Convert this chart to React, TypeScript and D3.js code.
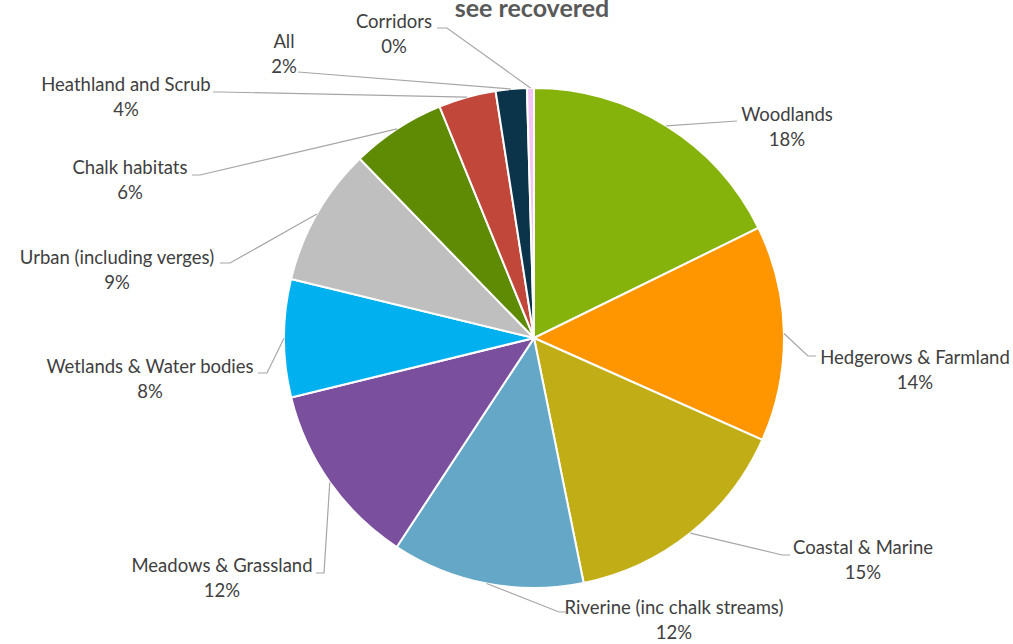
import React from "react";
import * as d3 from "d3";

// ---- data ----
const categories = [
  "Woodlands",
  "Hedgerows & Farmland",
  "Coastal & Marine",
  "Riverine (inc chalk streams)",
  "Meadows & Grassland",
  "Wetlands & Water bodies",
  "Urban (including verges)",
  "Chalk habitats",
  "Heathland and Scrub",
  "All",
  "Corridors",
];
const values = [17.7, 13.9, 15.1, 12.4, 11.9, 7.6, 8.9, 6.1, 3.7, 2.0, 0.45];
const titleLine = "see recovered";

// ---- styles / layout ----
const colors = [
  "#85B30B",
  "#FF9600",
  "#C1AE16",
  "#65A7C6",
  "#7A4F9D",
  "#00B0EF",
  "#BFBFBF",
  "#5E8A04",
  "#C1473A",
  "#0B3349",
  "#F3C6F5",
];

// label text centre (x, line-1 centre y), leader elbow and end near the label
const labelLayout = [
  { tx: 787, ty: 115, elbow: [737, 121], end: [737, 121] },
  { tx: 915, ty: 358, elbow: [808, 356], end: [816, 356] },
  { tx: 863, ty: 548, elbow: [782, 555], end: [790, 555] },
  { tx: 674, ty: 608, elbow: [559, 612], end: [566, 612] },
  { tx: 222, ty: 566, elbow: [324, 573], end: [316, 573] },
  { tx: 150, ty: 367, elbow: [267, 373], end: [258, 373] },
  { tx: 117, ty: 258, elbow: [230, 263], end: [220, 263] },
  { tx: 130, ty: 168, elbow: [200, 175], end: [192, 175] },
  { tx: 126, ty: 85, elbow: [221, 92], end: [213, 92] },
  { tx: 284, ty: 42, elbow: [298, 72], end: [298, 72] },
  { tx: 394, ty: 22, elbow: [447, 28], end: [437, 28] },
];

const W = 1013;
const H = 644;
const cx = 534;
const cy = 338;
const R = 250;
const FONT = "Lato, 'Open Sans', sans-serif";

export default function App() {
  const total = d3.sum(values);
  const pie = d3
    .pie<number>()
    .sort(null)
    .value((d) => d)
    .startAngle(0)
    .endAngle(2 * Math.PI);
  const arcs = pie(values);
  const arcGen = d3.arc<d3.PieArcDatum<number>>().innerRadius(0).outerRadius(R);

  return (
    <svg
      width={W}
      height={H}
      style={{ position: "absolute", left: 0, top: 0, background: "#fff" }}
      fontFamily={FONT}
    >
      <text
        x={532}
        y={17}
        textAnchor="middle"
        fontSize={25}
        fontWeight="bold"
        fill="#595959"
      >
        {titleLine}
      </text>
      <g transform={`translate(${cx},${cy})`}>
        {arcs.map((a, i) => (
          <path
            key={i}
            d={arcGen(a) || ""}
            fill={colors[i]}
            stroke="#fff"
            strokeWidth={2}
          />
        ))}
      </g>
      {arcs.map((a, i) => {
        const mid = (a.startAngle + a.endAngle) / 2;
        const px = cx + R * Math.sin(mid);
        const py = cy - R * Math.cos(mid);
        const L = labelLayout[i];
        const line = d3.line()([
          [px, py],
          L.elbow as [number, number],
          L.end as [number, number],
        ]);
        return (
          <path
            key={"l" + i}
            d={line || ""}
            fill="none"
            stroke="#A6A6A6"
            strokeWidth={1.2}
          />
        );
      })}
      {arcs.map((a, i) => {
        const L = labelLayout[i];
        const pct = Math.round((values[i] / total) * 100) + "%";
        return (
          <g key={"t" + i} fill="#404040" fontSize={18.5} textAnchor="middle">
            <text x={L.tx} y={L.ty} dy="0.35em">
              {categories[i]}
            </text>
            <text x={L.tx} y={L.ty + 25} dy="0.35em">
              {pct}
            </text>
          </g>
        );
      })}
    </svg>
  );
}
